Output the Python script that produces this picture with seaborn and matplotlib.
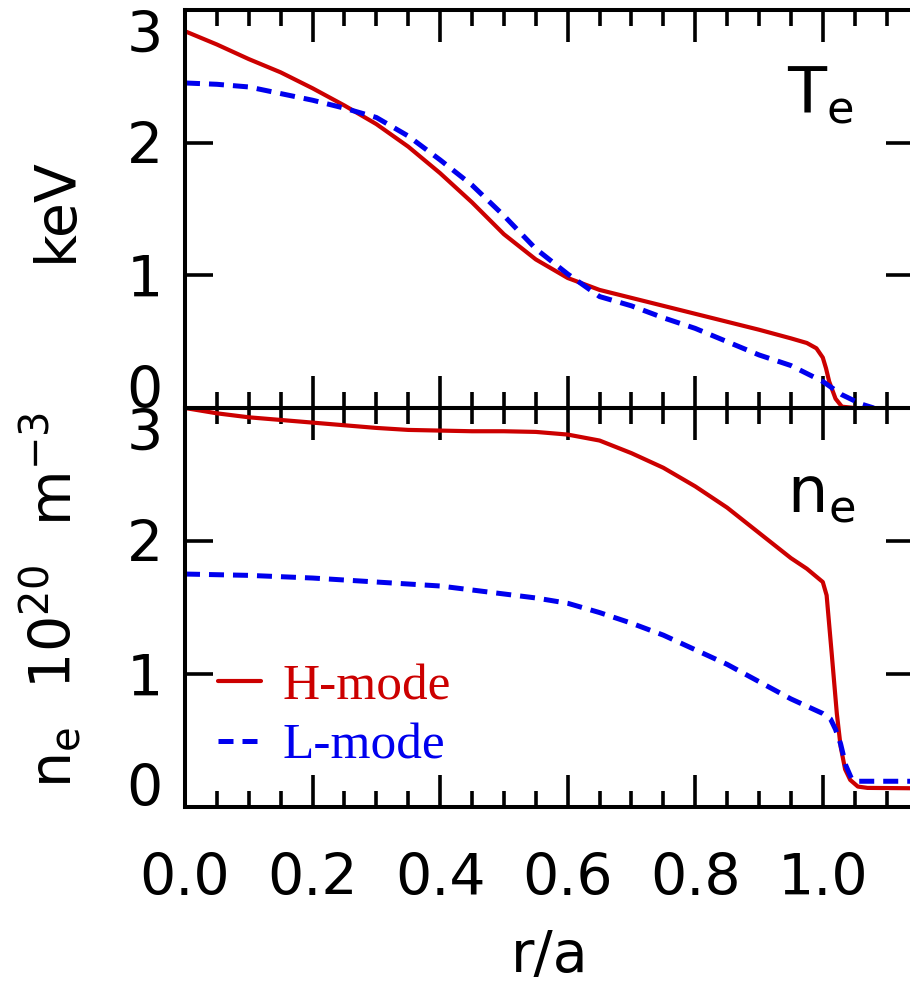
import matplotlib
matplotlib.use('Agg')
import matplotlib.pyplot as plt
import seaborn as sns
from matplotlib.ticker import MultipleLocator
from matplotlib.font_manager import FontProperties

# ---- data: electron temperature (keV) ----
r_te_h = [0.00, 0.05, 0.10, 0.15, 0.20, 0.25, 0.30, 0.35, 0.40, 0.45, 0.50, 0.55,
          0.60, 0.65, 0.70, 0.75, 0.80, 0.85, 0.90, 0.95, 0.975, 0.99, 1.00, 1.005,
          1.01, 1.02, 1.03, 1.05]
te_h = [2.84, 2.74, 2.63, 2.53, 2.41, 2.28, 2.14, 1.97, 1.77, 1.55, 1.31, 1.12,
        0.98, 0.89, 0.83, 0.77, 0.71, 0.65, 0.59, 0.525, 0.49, 0.45, 0.38, 0.30,
        0.20, 0.07, 0.01, 0.0]

r_te_l = [0.00, 0.05, 0.10, 0.15, 0.20, 0.25, 0.30, 0.35, 0.40, 0.45, 0.50, 0.55,
          0.60, 0.65, 0.70, 0.75, 0.80, 0.85, 0.90, 0.95, 1.00, 1.03, 1.06, 1.08]
te_l = [2.45, 2.44, 2.42, 2.37, 2.32, 2.26, 2.19, 2.05, 1.87, 1.68, 1.45, 1.20,
        1.01, 0.84, 0.77, 0.68, 0.60, 0.50, 0.40, 0.32, 0.20, 0.10, 0.03, 0.0]

# ---- data: electron density (1e20 m^-3) ----
r_ne_h = [0.00, 0.05, 0.10, 0.15, 0.20, 0.25, 0.30, 0.35, 0.40, 0.45, 0.50, 0.55,
          0.60, 0.65, 0.70, 0.75, 0.80, 0.85, 0.90, 0.95, 0.975, 0.99, 1.00, 1.006,
          1.014, 1.022, 1.028, 1.035, 1.043, 1.055, 1.07, 1.15]
ne_h = [3.00, 2.96, 2.93, 2.91, 2.89, 2.87, 2.85, 2.835, 2.83, 2.825, 2.825, 2.82,
        2.80, 2.755, 2.66, 2.55, 2.41, 2.25, 2.06, 1.87, 1.79, 1.73, 1.69, 1.59,
        1.15, 0.70, 0.45, 0.28, 0.20, 0.15, 0.14, 0.137]

r_ne_l = [0.00, 0.10, 0.20, 0.30, 0.40, 0.50, 0.55, 0.60, 0.65, 0.70, 0.75, 0.80,
          0.85, 0.90, 0.95, 1.00, 1.012, 1.02, 1.028, 1.036, 1.045, 1.055, 1.15]
ne_l = [1.75, 1.74, 1.72, 1.69, 1.66, 1.60, 1.57, 1.53, 1.46, 1.38, 1.29, 1.18,
        1.07, 0.94, 0.81, 0.70, 0.66, 0.58, 0.47, 0.31, 0.21, 0.19, 0.19]

x_major = [0.0, 0.2, 0.4, 0.6, 0.8, 1.0]
x_labels = ['0.0', '0.2', '0.4', '0.6', '0.8', '1.0']
y_major = [0, 1, 2, 3]
y_labels = ['0', '1', '2', '3']
series_names = ['H-mode', 'L-mode']

sns.set_style('ticks')
plt.rcParams['font.family'] = ['DejaVu Sans']
plt.rcParams['mathtext.default'] = 'regular'
for k in ('text.color', 'axes.labelcolor', 'xtick.color', 'ytick.color',
          'axes.edgecolor'):
    plt.rcParams[k] = 'black'

RED = '#cc0000'
BLUE = '#0000ee'

W, H = 910, 989
fig = plt.figure(figsize=(W / 100, H / 100), dpi=100)
xl, xr = 185, 914
ax1 = fig.add_axes([xl / W, (H - 408) / H, (xr - xl) / W, 398 / H])
ax2 = fig.add_axes([xl / W, (H - 806.5) / H, (xr - xl) / W, 398.5 / H])

for ax, (rh, yh, rl, yl) in ((ax1, (r_te_h, te_h, r_te_l, te_l)),
                             (ax2, (r_ne_h, ne_h, r_ne_l, ne_l))):
    sns.lineplot(x=rh, y=yh, ax=ax, color=RED, lw=3.0, sort=False,
                 estimator=None, label=series_names[0], legend=False)
    sns.lineplot(x=rl, y=yl, ax=ax, color=BLUE, lw=3.6, sort=False,
                 estimator=None, label=series_names[1], legend=False,
                 linestyle=(0, (3.0, 1.8)))
    ax.set_xlim(0, 1.143)
    ax.set_ylim(0, 3)
    ax.set_xticks(x_major)
    ax.set_xticklabels(x_labels)
    ax.xaxis.set_minor_locator(MultipleLocator(0.05))
    ax.set_yticks(y_major)
    ax.set_yticklabels(y_labels)
    ax.tick_params(axis='x', which='major', direction='in', length=23, width=2.6,
                   top=True, bottom=True, labelsize=41, pad=33, colors='black')
    ax.tick_params(axis='x', which='minor', direction='in', length=11.5, width=2.6,
                   top=True, bottom=True, colors='black')
    ax.tick_params(axis='y', which='major', direction='in', length=20, width=2.6,
                   left=True, right=True, labelsize=41, pad=16, colors='black')
    ax.tick_params(axis='y', which='minor', left=False, right=False)
    for s in ax.spines.values():
        s.set_visible(True)
        s.set_linewidth(2.9)
        s.set_color('black')
    ax.set_xlabel('')
    ax.set_ylabel('')
    ax.set_facecolor('none')
    for lab in ax.get_yticklabels():
        t = lab.get_text()
        if t == '3':
            lab.set_va('top')
        elif t == '0':
            lab.set_va('baseline')
        else:
            lab.set_va('center_baseline')

ax1.tick_params(axis='x', labelbottom=False)

ax2.set_xlabel('r/a', fontsize=41, color='black')
ax2.xaxis.set_label_coords(0.5, -0.415)
ax2.xaxis.label.set_va('baseline')

ax1.text(0.944, 2.22, r'$T_e$', fontsize=46, ha='left', va='baseline', color='black')
ax2.text(0.944, 2.22, r'$n_e$', fontsize=46, ha='left', va='baseline', color='black')

fig.text(72 / W, (H - 210) / H, 'keV', fontsize=41, rotation=90, color='black',
         rotation_mode='anchor', ha='center', va='baseline')
fig.text(72 / W, (H - 600) / H, r'$n_e\ \ 10^{20}\ \ m^{-3}$', fontsize=41,
         rotation=90, rotation_mode='anchor', ha='center', va='baseline', color='black')

lines = ax2.get_lines()[:2]
leg = ax2.legend(lines, series_names, loc='upper left', bbox_to_anchor=(0.045, 0.36),
                 frameon=False, prop=FontProperties(family='Liberation Serif', size=37),
                 labelcolor=[RED, BLUE], handlelength=0.85, handletextpad=0.4,
                 labelspacing=0.25, borderpad=0, borderaxespad=0)

fig.savefig('out.png', dpi=100)
